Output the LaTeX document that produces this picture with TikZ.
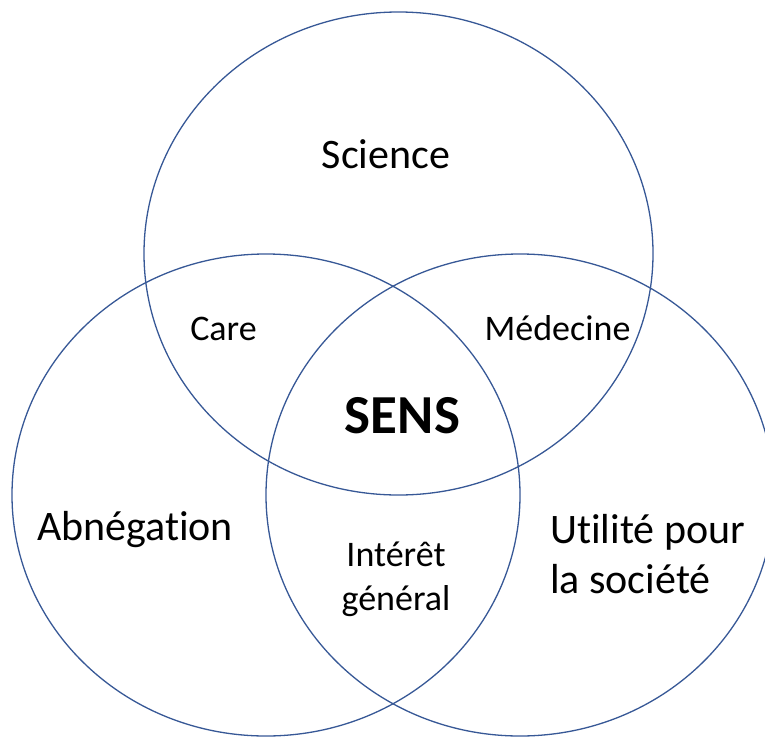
\documentclass[tikz,border=0pt]{standalone}
\usepackage{fontspec}
\setmainfont{Carlito}[Ligatures=NoCommon]
\definecolor{monazur}{RGB}{55,88,150}
\tikzset{
	cercle/.style={color=monazur,line width=1.3pt},
	grand/.style={inner sep=0pt,font=\fontsize{42}{50}\selectfont},
	petit/.style={inner sep=0pt,font=\fontsize{36}{44}\selectfont},
}

\begin{document}
\begin{tikzpicture}[x=1pt,y=-1pt]
	\useasboundingbox (0,0) rectangle (765,736);
	\clip (0,0) rectangle (765,736);
	% Ensemble Science %
	\draw[cercle] (398.5,253.5) ellipse [x radius=254.5, y radius=241.5];
	\node[grand,anchor=base] (science) at (386,168) {Science};
	% Ensemble Abnégation %
	\draw[cercle] (266,495) ellipse [x radius=254, y radius=241];
	\node[grand,anchor=base] (abnegation) at (135,540) {Abnégation};
	% Ensemble Utilité %
	\draw[cercle] (520,495) ellipse [x radius=254, y radius=241];
	\node[grand,anchor=base west,align=left] (utilite) at (550,593) {Utilité pour\\la société};
	% Intersections %
	\node[petit,anchor=base] (care) at (223.5,340) {Care};
	\node[petit,anchor=base] (medecine) at (557.5,340) {Médecine};
	\node[petit,anchor=base,align=center] (interet) at (396,610) {Intérêt\\général};
	\node[font=\fontsize{55}{66}\selectfont\bfseries,anchor=base] (sens) at (402.5,433) {SENS};
\end{tikzpicture}
\end{document}
